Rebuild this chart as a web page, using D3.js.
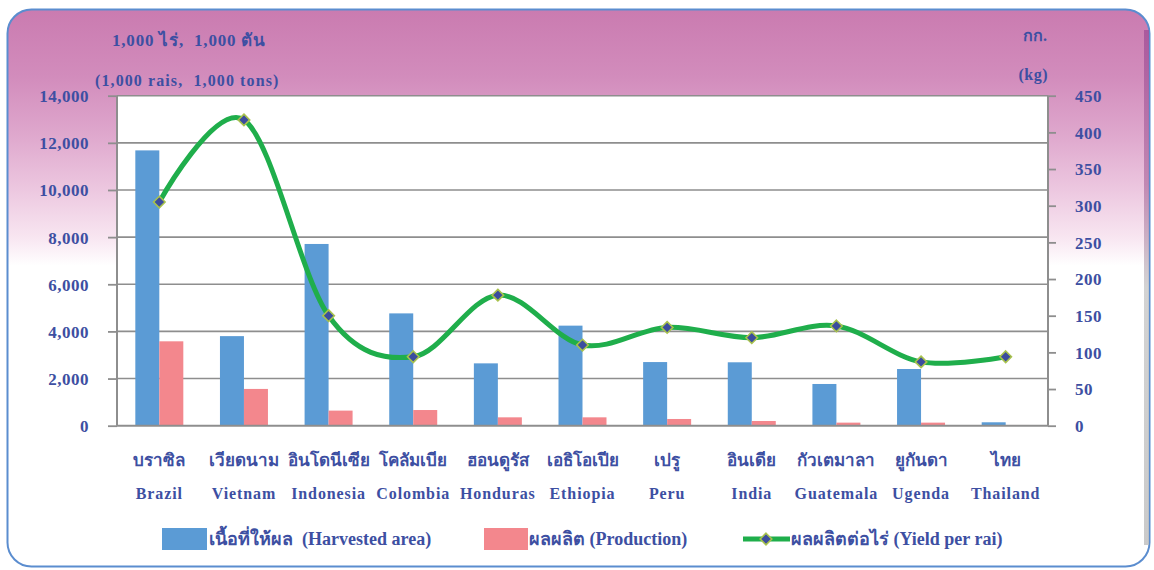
<!DOCTYPE html>
<html>
<head>
<meta charset="utf-8">
<script src="https://cdn.jsdelivr.net/npm/d3@7"></script>
<style>
  html, body { margin: 0; padding: 0; background: #ffffff; }
  svg { display: block; }
  text { font-family: "Liberation Serif", "Times New Roman", serif; font-weight: bold; fill: #3d4fa2; }
</style>
</head>
<body>
<svg id="chart" width="1154" height="570"></svg>
<script>
// ---------- data ----------
const categoriesTh = ["บราซิล", "เวียดนาม", "อินโดนีเซีย", "โคลัมเบีย", "ฮอนดูรัส", "เอธิโอเปีย", "เปรู", "อินเดีย", "กัวเตมาลา", "ยูกันดา", "ไทย"];
const categoriesEn = ["Brazil", "Vietnam", "Indonesia", "Colombia", "Honduras", "Ethiopia", "Peru", "India", "Guatemala", "Ugenda", "Thailand"];
const harvestedArea = [11680, 3800, 7710, 4765, 2645, 4245, 2700, 2690, 1770, 2405, 145];
const production = [3580, 1560, 640, 665, 355, 355, 285, 200, 130, 130, 30];
const yieldPerRai = [305, 417, 150, 94, 178, 110, 134, 120, 136, 87, 94];
const leftTicks = [0, 2000, 4000, 6000, 8000, 10000, 12000, 14000];
const rightTicks = [0, 50, 100, 150, 200, 250, 300, 350, 400, 450];

const svg = d3.select("#chart");
const plot = { left: 117, right: 1048, top: 95.7, bottom: 425.7 };

const blue = "#5b9bd5", pink = "#f3878d", green = "#1fae4b";

// ---------- background frame ----------
const defs = svg.append("defs");
const bg = defs.append("linearGradient").attr("id", "bg").attr("x1", 0).attr("y1", 0).attr("x2", 0).attr("y2", 1);
[[0, "#ca7bb0"], [0.12, "#d28cbc"], [0.22, "#dea6cc"], [0.32, "#ecc6df"], [0.41, "#f8e6f1"], [0.46, "#ffffff"], [1, "#ffffff"]]
  .forEach(([o, c]) => bg.append("stop").attr("offset", o).attr("stop-color", c));
const side = defs.append("linearGradient").attr("id", "side").attr("x1", 0).attr("y1", 0).attr("x2", 0).attr("y2", 1);
[[0, "#a24f98"], [0.3, "#b77aa9"], [0.5, "#c8c8c8"], [1, "#bdbdbd"]]
  .forEach(([o, c]) => side.append("stop").attr("offset", o).attr("stop-color", c));

svg.append("rect").attr("x", 7.5).attr("y", 9.5).attr("width", 1142).attr("height", 557)
  .attr("rx", 24).attr("fill", "url(#bg)").attr("stroke", "#5b8dcf").attr("stroke-width", 2);
svg.append("rect").attr("x", 1144).attr("y", 30).attr("width", 5).attr("height", 515)
  .attr("fill", "url(#side)").attr("opacity", 0.8);

// ---------- scales ----------
const x = d3.scaleBand().domain(categoriesEn).range([plot.left, plot.right]).paddingInner(0.433).paddingOuter(0.2165);
const xs = d3.scaleBand().domain(["area", "prod"]).range([0, x.bandwidth()]);
const yL = d3.scaleLinear().domain([0, 14000]).range([plot.bottom, plot.top]);
const yR = d3.scaleLinear().domain([0, 450]).range([plot.bottom, plot.top]);

// plot area
svg.append("rect").attr("x", plot.left).attr("y", plot.top)
  .attr("width", plot.right - plot.left).attr("height", plot.bottom - plot.top).attr("fill", "#ffffff");

// gridlines
svg.append("g").selectAll("line").data(leftTicks.filter(d => d > 0)).join("line")
  .attr("x1", plot.left).attr("x2", plot.right)
  .attr("y1", d => yL(d)).attr("y2", d => yL(d))
  .attr("stroke", "#8e8e8e").attr("stroke-width", 1.6);

// bars
const groups = svg.append("g").selectAll("g").data(categoriesEn).join("g")
  .attr("transform", d => `translate(${x(d)},0)`);
groups.append("rect").attr("x", xs("area")).attr("width", xs.bandwidth())
  .attr("y", (d, i) => yL(harvestedArea[i])).attr("height", (d, i) => yL(0) - yL(harvestedArea[i]))
  .attr("fill", blue);
groups.append("rect").attr("x", xs("prod")).attr("width", xs.bandwidth())
  .attr("y", (d, i) => yL(production[i])).attr("height", (d, i) => yL(0) - yL(production[i]))
  .attr("fill", pink);

// axes
const leftAxis = d3.axisLeft(yL).tickValues(leftTicks).tickSize(9).tickPadding(19).tickFormat(d3.format(","));
const gL = svg.append("g").attr("transform", `translate(${plot.left},0)`).call(leftAxis);
const rightAxis = d3.axisRight(yR).tickValues(rightTicks).tickSize(8).tickPadding(19).tickFormat(d3.format("d"));
const gR = svg.append("g").attr("transform", `translate(${plot.right},0)`).call(rightAxis);
[gL, gR].forEach(g => {
  g.select(".domain").remove();
  g.selectAll(".tick line").attr("stroke", "#8e8e8e").attr("stroke-width", 1.8);
  g.selectAll(".tick text").attr("fill", "#3d4fa2").style("font-size", "17px")
    .style("font-family", "'Liberation Serif', serif").style("font-weight", "bold").attr("letter-spacing", 0.5).attr("dy", "0.35em");
});
svg.append("line").attr("x1", plot.left).attr("x2", plot.left).attr("y1", plot.top).attr("y2", plot.bottom)
  .attr("stroke", "#8e8e8e").attr("stroke-width", 2);
svg.append("line").attr("x1", plot.right).attr("x2", plot.right).attr("y1", plot.top).attr("y2", plot.bottom)
  .attr("stroke", "#8e8e8e").attr("stroke-width", 2);
svg.append("line").attr("x1", plot.left).attr("x2", plot.right).attr("y1", plot.bottom).attr("y2", plot.bottom)
  .attr("stroke", "#8e8e8e").attr("stroke-width", 2);

// yield line
const cx = d => x(d) + x.bandwidth() / 2;
const line = d3.line().x((d, i) => cx(categoriesEn[i])).y(d => yR(d)).curve(d3.curveCardinal.tension(0));
svg.append("path").datum(yieldPerRai).attr("d", line).attr("fill", "none")
  .attr("stroke", green).attr("stroke-width", 5).attr("stroke-linecap", "round");
const diamond = d3.symbol().type(d3.symbolDiamond2).size(85);
svg.append("g").selectAll("path").data(yieldPerRai).join("path")
  .attr("d", diamond)
  .attr("transform", (d, i) => `translate(${cx(categoriesEn[i])},${yR(d)})`)
  .attr("fill", "#3b4c9e").attr("stroke", "#a8c24c").attr("stroke-width", 1.6);

// category labels
svg.append("g").selectAll("text").data(categoriesTh).join("text")
  .attr("x", (d, i) => cx(categoriesEn[i])).attr("y", 466)
  .attr("text-anchor", "middle").style("font-size", "17px").text(d => d);
svg.append("g").selectAll("text").data(categoriesEn).join("text")
  .attr("x", d => cx(d)).attr("y", 499)
  .attr("text-anchor", "middle").style("font-size", "16px").attr("letter-spacing", 0.9).text(d => d);

// axis titles
svg.append("text").attr("x", 112).attr("y", 46).style("font-size", "17px").attr("letter-spacing", 0.8)
  .style("white-space", "pre").text("1,000 ไร่,  1,000 ตัน");
svg.append("text").attr("x", 95).attr("y", 86).style("font-size", "16px").attr("letter-spacing", 1.1)
  .style("white-space", "pre").text("(1,000 rais,  1,000 tons)");
svg.append("text").attr("x", 1047).attr("y", 41).attr("text-anchor", "end").style("font-size", "16px").text("กก.");
svg.append("text").attr("x", 1048).attr("y", 80).attr("text-anchor", "end").style("font-size", "16px").attr("letter-spacing", 0.5).text("(kg)");

// legend
const lg = svg.append("g");
lg.append("rect").attr("x", 162).attr("y", 528).attr("width", 45).attr("height", 22).attr("fill", blue);
lg.append("text").attr("x", 209).attr("y", 545).style("font-size", "18px").style("white-space", "pre")
  .text("เนื้อที่ให้ผล  (Harvested area)");
lg.append("rect").attr("x", 484).attr("y", 528).attr("width", 44).attr("height", 22).attr("fill", pink);
lg.append("text").attr("x", 529).attr("y", 545).style("font-size", "18px").text("ผลผลิต (Production)");
lg.append("line").attr("x1", 743).attr("x2", 790).attr("y1", 539).attr("y2", 539)
  .attr("stroke", green).attr("stroke-width", 5);
lg.append("path").attr("d", diamond).attr("transform", "translate(766,539)")
  .attr("fill", "#3b4c9e").attr("stroke", "#a8c24c").attr("stroke-width", 1.6);
lg.append("text").attr("x", 791).attr("y", 545).style("font-size", "18px").text("ผลผลิตต่อไร่ (Yield per rai)");
</script>
</body>
</html>
